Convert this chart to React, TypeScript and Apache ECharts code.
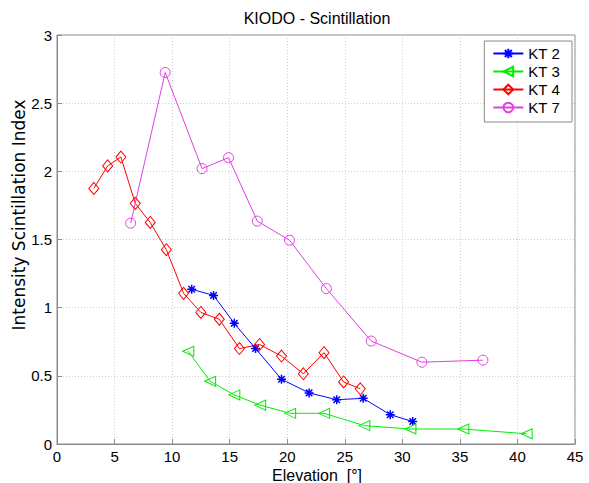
import React, { useEffect, useRef } from "react";
import * as echarts from "echarts";

const kt2X = [11.7, 13.6, 15.4, 17.25, 19.5, 21.9, 24.3, 26.6, 28.95, 30.9];
const kt2Y = [1.135, 1.09, 0.885, 0.70, 0.475, 0.375, 0.325, 0.335, 0.215, 0.165];

const kt3X = [11.4, 13.3, 15.4, 17.65, 20.25, 23.2, 26.7, 30.7, 35.3, 40.8];
const kt3Y = [0.68, 0.46, 0.36, 0.285, 0.225, 0.225, 0.135, 0.11, 0.11, 0.075];

const kt4X = [3.2, 4.4, 5.55, 6.8, 8.1, 9.5, 11.0, 12.5, 14.1, 15.85, 17.6, 19.5, 21.4, 23.2, 24.9, 26.35];
const kt4Y = [1.875, 2.04, 2.105, 1.765, 1.625, 1.425, 1.105, 0.965, 0.915, 0.70, 0.73, 0.645, 0.515, 0.67, 0.455, 0.405];

const kt7X = [6.4, 9.4, 12.6, 14.9, 17.4, 20.2, 23.4, 27.3, 31.7, 37.0];
const kt7Y = [1.62, 2.725, 2.02, 2.10, 1.635, 1.495, 1.14, 0.755, 0.60, 0.615];

const xTicks = { min: 0, max: 45, interval: 5 };
const yTicks = { min: 0, max: 3, interval: 0.5 };

const FONT = "'Liberation Sans', Arial, Helvetica, sans-serif";
const WIDE = "'DejaVu Sans', sans-serif";

const starPath =
  "path://M0,-5 L0,5 M-5,0 L5,0 M-3.6,-3.6 L3.6,3.6 M-3.6,3.6 L3.6,-3.6";

function pairs(xs: number[], ys: number[]) {
  return xs.map((x, i) => [x, ys[i]]);
}

export default function App() {
  const ref = useRef<HTMLDivElement>(null);
  useEffect(() => {
    if (!ref.current) return;
    const chart = echarts.init(ref.current, null, { renderer: "svg" });
    const mk = (name: string, color: string, xs: number[], ys: number[], symbol: string, extra: any = {}) => ({
      name,
      type: "line",
      data: pairs(xs, ys),
      color,
      symbol,
      symbolSize: 10,
      showAllSymbol: true,
      lineStyle: { color, width: 1 },
      itemStyle: { color: "transparent", borderColor: color, borderWidth: 1 },
      emphasis: { disabled: true },
      z: 3,
      ...extra,
    });
    chart.setOption({
      animation: false,
      textStyle: { fontFamily: FONT },
      grid: {
        left: 57,
        right: 14,
        top: 35,
        bottom: 39,
        show: true,
        borderColor: "#8a8a8a",
        borderWidth: 1,
        backgroundColor: "transparent",
      },
      graphic: [
        {
          type: "text",
          x: 317,
          y: 18,
          style: {
            text: "KIODO - Scintillation",
            fontSize: 16,
            fontFamily: FONT,
            fill: "#000",
            align: "center",
            verticalAlign: "middle",
          },
        },
        {
          type: "text",
          x: 317,
          y: 475,
          style: {
            text: "Elevation  [°]",
            fontSize: 16,
            fontFamily: FONT,
            fill: "#000",
            align: "center",
            verticalAlign: "middle",
          },
        },
        {
          type: "text",
          x: 19,
          y: 215,
          rotation: Math.PI / 2,
          style: {
            text: "Intensity Scintillation Index",
            fontSize: 17,
            fontFamily: WIDE,
            fill: "#000",
            align: "center",
            verticalAlign: "middle",
          },
        },
      ],
      legend: {
        orient: "vertical",
        right: 17,
        top: 41,
        padding: [5, 12, 7, 8],
        itemGap: 3,
        itemWidth: 30,
        itemHeight: 12,
        itemTextGap: 8,
        borderColor: "#8a8a8a",
        borderWidth: 1,
        borderRadius: 0,
        backgroundColor: "#fff",
        textStyle: { fontSize: 15, color: "#000", fontFamily: FONT },
        data: ["KT 2", "KT 3", "KT 4", "KT 7"],
      },
      xAxis: {
        type: "value",
        ...xTicks,
        axisLine: { show: true, lineStyle: { color: "#8a8a8a" } },
        axisTick: { show: true, inside: true, length: 5, lineStyle: { color: "#8a8a8a" } },
        axisLabel: { fontSize: 15, color: "#000", margin: 5, fontFamily: FONT },
        splitLine: { show: true, lineStyle: { color: "#cfcfcf", type: [1, 2] } },
      },
      yAxis: {
        type: "value",
        ...yTicks,
        axisLine: { show: true, lineStyle: { color: "#8a8a8a" } },
        axisTick: { show: true, inside: true, length: 5, lineStyle: { color: "#8a8a8a" } },
        axisLabel: { fontSize: 15, color: "#000", margin: 5, fontFamily: FONT },
        splitLine: { show: true, lineStyle: { color: "#cfcfcf", type: [1, 2] } },
      },
      series: [
        mk("KT 2", "#0000ff", kt2X, kt2Y, starPath, { symbolSize: 9, itemStyle: { color: "transparent", borderColor: "#0000ff", borderWidth: 1.5 } }),
        mk("KT 3", "#00ee00", kt3X, kt3Y, "triangle", { symbolRotate: 90, symbolSize: [10, 11] }),
        mk("KT 4", "#ff0000", kt4X, kt4Y, "diamond", { symbolSize: [10, 12] }),
        mk("KT 7", "#e040e0", kt7X, kt7Y, "circle"),
      ],
    });
    return () => chart.dispose();
  }, []);
  return (
    <div
      ref={ref}
      style={{ position: "fixed", left: 0, top: 0, width: 589, height: 483, background: "#fff" }}
    />
  );
}
